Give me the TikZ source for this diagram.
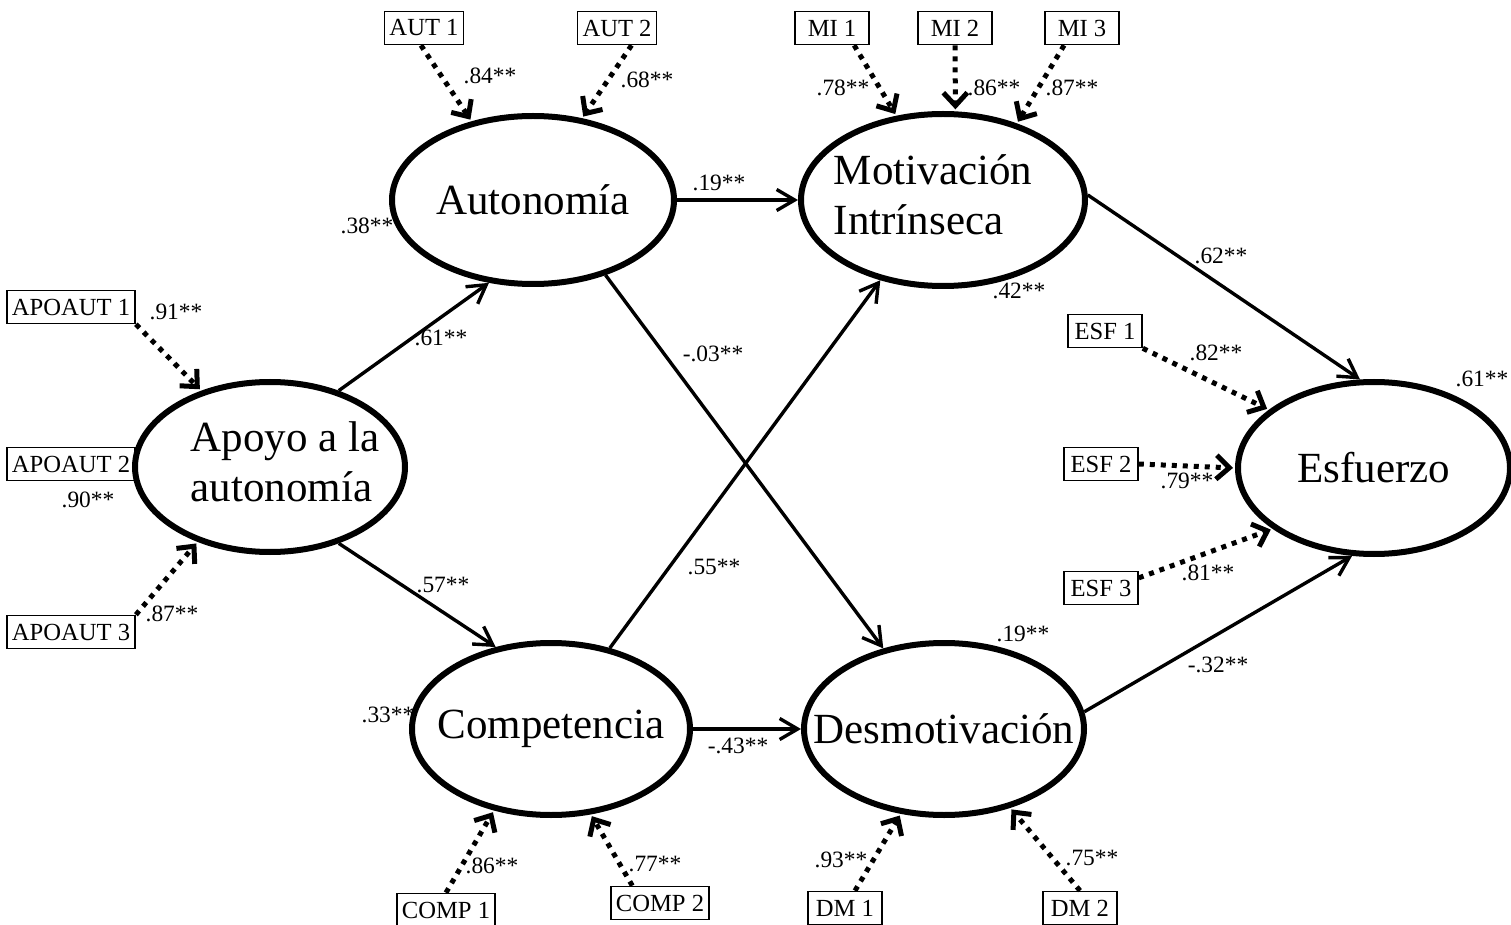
\documentclass[tikz,border=0pt]{standalone}
\usepackage{fontspec}
\setmainfont{Liberation Serif}
\usetikzlibrary{arrows.meta,shapes.geometric}

\begin{document}
\begin{tikzpicture}[x=0.5pt,y=-0.5pt,
	latent/.style={draw, ellipse, line width=3pt, inner sep=0pt,
		font=\fontsize{21.5}{25}\selectfont},
	indbox/.style={draw, rectangle, line width=0.8pt, minimum width=37pt,
		minimum height=16.5pt, inner xsep=2.5pt, inner ysep=0pt,
		font=\fontsize{12.3}{14}\selectfont},
	coef/.style={inner sep=0pt, font=\fontsize{11.7}{13}\selectfont},
	effect/.style={line width=1.7pt, -{Straight Barb[length=9pt,width=10.5pt]}},
	indic/.style={line width=2.5pt, dash pattern=on 2.5pt off 3pt,
		-{Straight Barb[length=6.5pt,width=12pt]}, shorten >=1pt}]

	% ---- frame

	\useasboundingbox (0,0) rectangle (1511,925);

	% ---- latent variables

	\node[latent, minimum width=135pt, minimum height=85pt] (apoyo) at (270,467)
		{\makebox[0pt]{\hspace{15pt}\begin{tabular}{@{}l@{}}Apoyo a la\\autonomía\end{tabular}}};
	\node[latent, minimum width=141pt, minimum height=84pt] (auto) at (533,200)
		{\makebox[0pt]{Autonomía}};
	\node[latent, minimum width=142pt, minimum height=86pt] (moti) at (943,200)
		{\makebox[0pt]{\hspace{-10pt}\begin{tabular}{@{}l@{}}Motivación\\Intrínseca\end{tabular}}};
	\node[latent, minimum width=139pt, minimum height=86pt] (comp) at (551,729)
		{\makebox[0pt]{\raisebox{5pt}{Competencia}}};
	\node[latent, minimum width=140pt, minimum height=86pt] (desm) at (944,729)
		{\makebox[0pt]{Desmotivación}};
	\node[latent, minimum width=136pt, minimum height=86pt] (esf) at (1374,468)
		{\makebox[0pt]{Esfuerzo}};

	% ---- indicators

	\foreach \n/\x/\y/\t in {aut1/424/28/AUT 1, aut2/617/28/AUT 2,
		mi1/832/28/MI 1, mi2/955/28/MI 2, mi3/1082/28/MI 3,
		apoaut1/71/307/APOAUT 1, apoaut2/71/464/APOAUT 2, apoaut3/71/632/APOAUT 3,
		esf1/1105/331/ESF 1, esf2/1101/464/ESF 2, esf3/1101/588/ESF 3,
		comp1/446/910/COMP 1, comp2/660/903/COMP 2,
		dm1/845/908/DM 1, dm2/1080/908/DM 2} {
		\node[indbox] (\n) at (\x,\y) {\t};
	}

	% ---- structural paths

	\draw[effect] (apoyo.48) -- (auto.242);
	\draw[effect] (apoyo.-48) -- (comp.124);
	\draw[effect] (auto.east) -- (moti.west);
	\draw[effect] (auto.-46) -- (desm.127);
	\draw[effect] (comp.54) -- (moti.-128);
	\draw[effect] (comp.east) -- (desm.west);
	\draw[effect] (moti.2) -- (esf.99);
	\draw[effect] (desm.7) -- (esf.-104);

	% ---- loadings

	\draw[indic] (aut1.-100) -- (auto.128);
	\draw[indic] (aut2.-50) -- (auto.59);
	\draw[indic] (mi1.-38) -- (moti.119);
	\draw[indic] (mi2.south) -- (moti.82);
	\draw[indic] (mi3.-136) -- (moti.46);
	\draw[indic] (apoaut1.south east) -- (apoyo.132);
	\draw[indic] (apoaut3.north east) -- (apoyo.-134);
	\draw[indic] (esf1.south east) -- (esf.151);
	\draw[indic] (esf2.east) -- (esf.west);
	\draw[indic] (esf3.15) -- (esf.-149);
	\draw[indic] (comp1.north) -- (comp.-125);
	\draw[indic] (comp2.148) -- (comp.-65);
	\draw[indic] (dm1.60) -- (desm.-117);
	\draw[indic] (dm2.north) -- (desm.-50);

	% ---- coefficients

	\foreach \x/\y/\t [count=\i] in {490/76/.84**, 647/80/.68**,
		843/88/.78**, 994/88/.86**, 1072/88/.87**,
		367/226/.38**, 719/183/.19**, 1019/291/.42**, 1221/256/.62**,
		441/338/.61**, 713/354/-.03**,
		176/312/.91**, 88/500/.90**, 172/614/.87**,
		443/585/.57**, 714/567/.55**, 388/715/.33**,
		738/746/-.43**, 1023/634/.19**, 1218/665/-.32**,
		1216/353/.82**, 1187/481/.79**, 1208/573/.81**, 1482/379/.61**,
		492/866/.86**, 655/864/.77**, 841/860/.93**, 1092/858/.75**} {
		\node[coef] (coef\i) at (\x,\y) {\t};
	}

\end{tikzpicture}
\end{document}
